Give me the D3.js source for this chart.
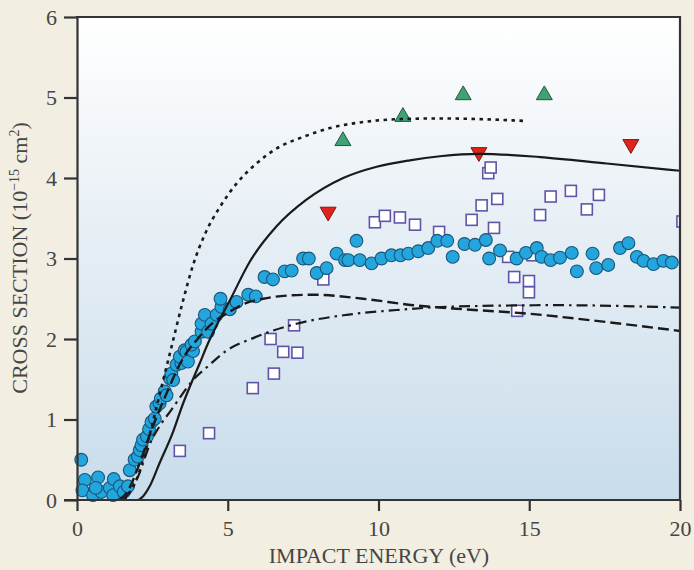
<!DOCTYPE html>
<html>
<head>
<meta charset="utf-8">
<script src="https://cdn.jsdelivr.net/npm/d3@7"></script>
<style>
  html, body { margin: 0; padding: 0; background: #f2eee1; }
  svg { display: block; }
  text { font-family: "Liberation Serif", "DejaVu Serif", serif; fill: #454545; }
</style>
</head>
<body>
<svg id="chart" width="694" height="570"></svg>
<script>
// ---------- data ----------
const xTicks = [0, 5, 10, 15, 20];
const yTicks = [0, 1, 2, 3, 4, 5, 6];
const xLabel = "IMPACT ENERGY (eV)";

// measured cross sections (filled circles)
const circles = [
  [0.14,0.5],[0.26,0.25],[0.18,0.12],[0.53,0.06],[0.7,0.28],[0.81,0.1],[0.62,0.15],[1.09,0.15],
  [1.22,0.26],[1.2,0.06],[1.42,0.17],[1.55,0.1],[1.69,0.17],[1.75,0.37],[1.91,0.5],[2.02,0.54],
  [2.08,0.62],[2.14,0.68],[2.19,0.75],[2.32,0.79],[2.39,0.88],[2.47,0.97],[2.58,1.01],[2.63,1.16],
  [2.74,1.2],[2.78,1.26],[2.91,1.35],[2.97,1.3],[3.08,1.51],[3.13,1.57],[3.19,1.49],[3.3,1.68],
  [3.46,1.7],[3.41,1.78],[3.57,1.86],[3.63,1.84],[3.68,1.72],[3.85,1.85],[3.8,1.93],[3.91,1.97],
  [4.13,2.09],[4.13,2.19],[4.24,2.3],[4.35,2.09],[4.46,2.19],[4.63,2.3],[4.79,2.4],[4.76,2.5],
  [5.07,2.37],[5.29,2.46],[5.68,2.55],[5.93,2.53],[6.22,2.77],[6.5,2.74],[6.89,2.84],[7.12,2.85],
  [7.5,3.0],[7.69,3.0],[7.95,2.82],[8.28,2.88],[8.61,3.06],[8.89,2.98],[9.0,2.98],[9.27,3.22],
  [9.38,2.98],[9.77,2.94],[10.1,3.0],[10.43,3.04],[10.73,3.04],[10.99,3.06],[11.32,3.09],[11.65,3.13],
  [11.95,3.22],[12.28,3.22],[12.46,3.02],[12.85,3.18],[13.2,3.17],[13.56,3.23],[13.67,3.0],[14.03,3.1],
  [14.58,3.0],[14.89,3.07],[15.25,3.13],[15.41,3.02],[15.71,2.98],[16.02,3.01],[16.41,3.07],[16.58,2.84],
  [17.1,3.06],[17.22,2.88],[17.62,2.92],[18.01,3.13],[18.29,3.19],[18.57,3.02],[18.79,2.97],[19.12,2.93],
  [19.45,2.97],[19.73,2.95]
];
// open squares
const squares = [
  [3.41,0.61],[4.38,0.83],[5.83,1.39],[6.42,2.0],[6.53,1.57],[6.84,1.84],[7.31,1.83],[7.2,2.17],
  [8.17,2.74],[9.88,3.45],[10.21,3.53],[10.71,3.51],[11.21,3.42],[12.01,3.33],[13.09,3.48],[13.42,3.66],
  [13.64,4.06],[13.72,4.13],[13.83,3.38],[13.94,3.74],[14.3,3.02],[14.5,2.77],[14.6,2.35],[14.99,2.72],
  [14.99,2.58],[15.11,3.04],[15.36,3.54],[15.71,3.77],[16.38,3.84],[16.91,3.61],[17.31,3.79],[20.08,3.46]
];
// green up-triangles
const triUp = [[8.82,4.46],[10.81,4.76],[12.81,5.03],[15.5,5.03]];
// red down-triangles
const triDown = [[8.33,3.58],[13.33,4.32],[18.37,4.42]];

// theory curves
const curveSolid = [
  [1.4,0],[2.0,0],[2.2,0.05],[2.41,0.17],[2.74,0.46],[3.19,0.85],[3.5,1.18],[3.8,1.46],[4.05,1.68],
  [4.35,1.95],[4.7,2.22],[5.07,2.48],[5.73,2.96],[6.62,3.4],[7.61,3.73],[8.83,4.0],[9.94,4.14],
  [11.04,4.22],[12.04,4.27],[13.36,4.3],[15.36,4.26],[17.57,4.18],[20,4.09]
];
const curveDotted = [
  [1.55,0],[1.8,0.12],[2.03,0.31],[2.4,0.8],[2.8,1.4],[3.08,1.82],[3.52,2.48],[3.85,2.92],[4.24,3.3],
  [4.74,3.64],[5.29,3.93],[5.95,4.18],[6.73,4.39],[7.5,4.51],[8.39,4.62],[9.6,4.7],[10.6,4.73],
  [12.04,4.74],[13.5,4.73],[14.8,4.71]
];
const curveDashed = [
  [1.4,0],[1.7,0.12],[2.0,0.38],[2.5,0.9],[3.0,1.35],[3.5,1.75],[4.0,2.0],[4.5,2.2],[5.07,2.34],
  [5.5,2.43],[6.17,2.5],[7.0,2.54],[7.83,2.55],[9.49,2.5],[11.15,2.42],[12.8,2.37],[14.8,2.32],
  [17.57,2.21],[20,2.1]
];
const curveDashDot = [
  [1.55,0],[2.0,0.27],[2.47,0.74],[2.8,0.95],[3.13,1.12],[3.41,1.27],[3.8,1.47],[4.4,1.68],[4.9,1.84],
  [5.9,2.02],[7.28,2.19],[8.94,2.3],[10.6,2.36],[12.26,2.4],[15.91,2.42],[20,2.39]
];

// ---------- drawing ----------
const svg = d3.select("#chart");
const W = 694, H = 570;
const m = { left: 77, right: 680, top: 17, bottom: 500 };

const x = d3.scaleLinear().domain([0, 20]).range([m.left, m.right]);
const y = d3.scaleLinear().domain([0, 6]).range([m.bottom, m.top]);

svg.append("rect").attr("width", W).attr("height", H).attr("fill", "#f2eee1");

const defs = svg.append("defs");
const grad = defs.append("linearGradient").attr("id", "bg").attr("x1", 0).attr("x2", 0).attr("y1", 0).attr("y2", 1);
grad.append("stop").attr("offset", "0%").attr("stop-color", "#ffffff");
grad.append("stop").attr("offset", "35%").attr("stop-color", "#ecf2f7");
grad.append("stop").attr("offset", "100%").attr("stop-color", "#c8dceb");
defs.append("clipPath").attr("id", "plotclip").append("rect")
  .attr("x", m.left).attr("y", m.top).attr("width", m.right - m.left).attr("height", m.bottom - m.top);

svg.append("rect")
  .attr("x", m.left).attr("y", m.top)
  .attr("width", m.right - m.left).attr("height", m.bottom - m.top)
  .attr("fill", "url(#bg)");

// markers
const gSq = svg.append("g").attr("clip-path", "url(#plotclip)");
gSq.selectAll("rect").data(squares).join("rect")
  .attr("x", d => x(d[0]) - 5.5).attr("y", d => y(d[1]) - 5.5)
  .attr("width", 11).attr("height", 11)
  .attr("fill", "#ffffff").attr("stroke", "#5f55a8").attr("stroke-width", 1.6);

svg.append("g").selectAll("circle").data(circles).join("circle")
  .attr("cx", d => x(d[0])).attr("cy", d => y(d[1])).attr("r", 6.4)
  .attr("fill", "#22a6dd").attr("stroke", "#1b5678").attr("stroke-width", 1.1);

const tri = d3.symbol().type(d3.symbolTriangle).size(110);
svg.append("g").selectAll("path").data(triUp).join("path")
  .attr("d", tri)
  .attr("transform", d => `translate(${x(d[0])},${y(d[1])})`)
  .attr("fill", "#3fa274").attr("stroke", "#24553d").attr("stroke-width", 1);
svg.append("g").selectAll("path").data(triDown).join("path")
  .attr("d", tri)
  .attr("transform", d => `translate(${x(d[0])},${y(d[1])}) rotate(180)`)
  .attr("fill", "#e0231b").attr("stroke", "#7a1a12").attr("stroke-width", 1);

// curves
const line = d3.line().x(d => x(d[0])).y(d => y(d[1])).curve(d3.curveMonotoneX);
const gl = svg.append("g").attr("fill", "none").attr("stroke", "#1a1a1a");
gl.append("path").datum(curveDotted).attr("d", line).attr("stroke-width", 2.6).attr("stroke-dasharray", "3.5,4.5");
gl.append("path").datum(curveDashed).attr("d", line).attr("stroke-width", 2.4).attr("stroke-dasharray", "11,5");
gl.append("path").datum(curveDashDot).attr("d", line).attr("stroke-width", 2.2).attr("stroke-dasharray", "11,5,2.5,5");
gl.append("path").datum(curveSolid).attr("d", line).attr("stroke-width", 2.2);

// frame / axes
const axisColor = "#333333";
const xAxis = d3.axisBottom(x).tickValues(xTicks).tickFormat(d3.format("d")).tickSize(11).tickSizeOuter(0).tickPadding(9);
const gx = svg.append("g").attr("transform", `translate(0,${m.bottom})`).call(xAxis);
const yAxis = d3.axisLeft(y).tickValues(yTicks).tickFormat(d3.format("d")).tickSize(13).tickSizeOuter(0).tickPadding(7);
const gy = svg.append("g").attr("transform", `translate(${m.left},0)`).call(yAxis);
[gx, gy].forEach(g => {
  g.select(".domain").attr("stroke", axisColor).attr("stroke-width", 2.2);
  g.selectAll(".tick line").attr("stroke", axisColor).attr("stroke-width", 2.2);
  g.selectAll(".tick text").attr("fill", "#4a4a4a")
    .style("font-family", '"Liberation Serif", "DejaVu Serif", serif').style("font-size", "22px");
});
gx.select(".domain").attr("d", `M${m.left - 13},0H${m.right}`);
// top and right border
svg.append("line").attr("x1", m.left - 1).attr("x2", m.right + 1).attr("y1", m.top).attr("y2", m.top)
  .attr("stroke", axisColor).attr("stroke-width", 2.2);
svg.append("line").attr("x1", m.right).attr("x2", m.right).attr("y1", m.top).attr("y2", m.bottom)
  .attr("stroke", axisColor).attr("stroke-width", 2.2);

// axis titles
svg.append("text").attr("x", 379).attr("y", 563)
  .attr("text-anchor", "middle").style("font-size", "22px").text(xLabel);

const yt = svg.append("text").attr("transform", `translate(27,${258}) rotate(-90)`)
  .attr("text-anchor", "middle").style("font-size", "22px");
yt.append("tspan").text("CROSS SECTION (10");
yt.append("tspan").attr("dy", -8).style("font-size", "14px").text("\u221215");
yt.append("tspan").attr("dy", 8).text(" cm");
yt.append("tspan").attr("dy", -8).style("font-size", "14px").text("2");
yt.append("tspan").attr("dy", 8).text(")");
</script>
</body>
</html>
